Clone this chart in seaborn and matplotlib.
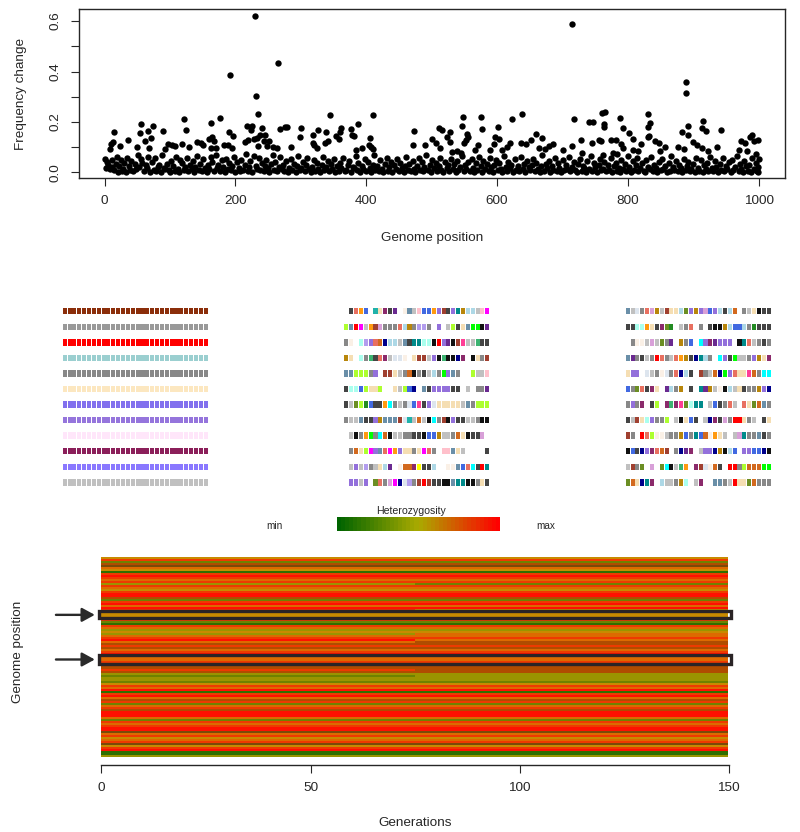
import numpy as np
import matplotlib
matplotlib.use("Agg")
import matplotlib.pyplot as plt
from matplotlib.colors import ListedColormap, LinearSegmentedColormap
from matplotlib.patches import Rectangle
import seaborn as sns

# upper part of the scatter, read point by point
pos_high = [230,265,192,231,234,344,410,122,176,163,55,74,388,218,226,224,240,268,276,279,300,327,338,362,360,377,
            15,66,125,89,54,191,196,71,237,246,298,318,354,359,378,382,405,228,233,220,215,243,251,36,13,10,62,165,
            160,168,142,148,150,119,318,320,337,342,97,103,108,23,129,183,188,195,404,407,411,249,235,257,263,285,
            49,68,9,162,170,92,325,394,384,
            714,888,889,830,638,623,576,548,718,760,765,788,914,740,747,833,831,764,763,547,601,577,892,792,913,920,
            942,511,516,473,528,524,528,882,801,554,556,552,549,659,891,990,986,998,993,597,603,595,668,652,637,644,
            620,830,832,808,728,759,755,774,782,842,847,820,900,745,500,507,472,490,513,571,685,680,673,715,790,792,
            906,913,923,973,979,936,877,886,857,849,615,607,664,589,700,730,808,815,566,531,539,545,969,982,995,777,784,762]
freq_high = [.62,.434,.388,.303,.23,.229,.226,.21,.216,.196,.192,.186,.192,.186,.186,.17,.175,.172,.18,.18,.176,.167,.16,.175,.162,.174,
             .16,.163,.17,.166,.155,.159,.143,.138,.15,.15,.14,.149,.143,.134,.149,.146,.135,.133,.135,.129,.12,.126,.125,.129,.122,.113,.124,.142,
             .132,.124,.12,.118,.108,.112,.118,.11,.116,.125,.113,.108,.103,.104,.101,.107,.107,.096,.108,.101,.093,.104,.103,.1,.095,.1,
             .099,.095,.093,.096,.096,.093,.095,.095,.09,
             .587,.36,.315,.23,.232,.212,.221,.22,.21,.237,.24,.216,.205,.2,.2,.197,.182,.192,.179,.186,.18,.172,.184,.176,.176,.163,
             .17,.175,.168,.166,.16,.142,.121,.159,.155,.153,.139,.129,.116,.153,.147,.147,.139,.13,.124,.142,.133,.113,.138,.128,.117,.112,
             .118,.14,.145,.133,.129,.125,.129,.129,.13,.126,.116,.112,.12,.117,.134,.118,.11,.107,.096,.11,.113,.103,.093,.104,.112,.096,
             .11,.096,.086,.124,.116,.099,.1,.092,.1,.087,.101,.09,.097,.088,.09,.079,.088,.087,.088,.083,.087,.076,.09,.087,.072,.076,.072,.07]

# dense band close to zero, estimated by eye
pos_low = [1,3,4,6,8,11,12,14,17,19,20,22,25,27,28,30,33,35,37,39,41,43,46,48,51,53,56,58,60,63,65,67,70,72,75,77,79,82,84,86,
           88,91,93,95,98,100,102,105,107,109,112,114,116,118,121,123,126,128,130,133,135,137,139,142,144,146,149,151,153,156,158,160,163,165,167,170,172,174,177,179,
           181,184,186,188,190,193,195,198,200,202,205,207,209,212,214,216,219,221,223,226,228,231,233,236,238,240,243,245,247,250,252,254,257,259,261,264,266,268,271,273,
           275,278,280,282,285,287,289,292,294,296,299,301,303,306,308,310,313,315,317,320,322,325,327,329,332,334,336,339,341,343,346,348,350,353,355,358,360,362,365,367,
           369,372,374,376,379,381,384,386,388,391,393,395,398,400,402,405,407,410,412,414,417,419,421,424,426,428,431,433,435,438,440,443,445,447,450,452,454,457,459,461,
           464,466,468,471,473,475,478,480,482,485,487,489,492,494,497,499,501,504,506,508,511,513,515,518,520,523,525,527,530,532,534,537,539,541,544,546,549,551,553,556,
           558,561,563,565,568,570,572,575,577,579,582,584,587,589,591,594,596,598,601,603,606,608,610,613,615,617,620,622,624,627,629,632,634,636,639,641,643,646,648,650,
           653,655,658,660,662,665,667,669,672,674,676,679,681,684,686,688,691,693,695,698,700,703,705,707,710,712,714,717,719,722,724,726,729,731,733,736,738,740,743,745,
           748,750,752,755,757,759,762,764,767,769,771,774,776,778,781,783,786,788,790,793,795,797,800,802,805,807,809,812,814,816,819,821,824,826,828,831,833,835,838,840,
           843,845,847,850,852,854,857,859,862,864,866,869,871,873,876,878,881,883,885,888,890,892,895,897,900,902,904,907,909,911,914,916,919,921,923,926,928,930,933,935,
           938,940,942,945,947,950,952,954,957,959,961,964,966,969,971,973,976,978,980,983,985,988,990,992,995,997,998,999,1000,996]
freq_low = [.055,.018,.042,.03,.012,.048,.022,.008,.035,.06,.002,.027,.05,.004,.015,.038,.003,.058,.024,.01,.044,.006,.032,.013,.07,.02,.052,.036,.005,.028,
            .016,.063,.003,.041,.011,.056,.007,.023,.03,.002,.068,.017,.012,.034,.008,.001,.045,.025,.006,.062,.015,.003,.05,.037,.01,.022,.058,.004,.029,.013,
            .046,.002,.02,.065,.009,.033,.005,.054,.018,.001,.028,.012,.06,.04,.004,.07,.016,.03,.007,.048,.023,.002,.055,.014,.036,.009,.025,.062,.003,.043,
            .019,.005,.051,.011,.031,.072,.006,.021,.044,.002,.065,.027,.013,.057,.008,.038,.004,.024,.05,.016,.001,.034,.068,.01,.041,.005,.022,.06,.014,.029,
            .007,.046,.003,.019,.054,.011,.035,.002,.025,.064,.008,.017,.042,.004,.03,.056,.012,.002,.023,.049,.006,.037,.015,.001,.028,.061,.009,.02,.044,.004,
            .033,.013,.052,.002,.026,.007,.039,.018,.058,.005,.011,.031,.047,.003,.022,.016,.065,.008,.036,.002,.027,.012,.053,.006,.041,.019,.003,.03,.07,.01,
            .024,.004,.048,.014,.002,.035,.059,.007,.02,.043,.003,.029,.012,.052,.006,.038,.017,.001,.025,.063,.009,.033,.005,.046,.015,.002,.027,.056,.011,.04,
            .004,.021,.068,.008,.031,.003,.05,.016,.037,.006,.024,.059,.01,.002,.043,.019,.028,.005,.054,.013,.034,.002,.047,.009,.022,.064,.004,.03,.015,.041,
            .007,.052,.018,.002,.036,.011,.06,.025,.003,.045,.014,.032,.006,.056,.02,.001,.028,.049,.008,.038,.012,.003,.066,.023,.005,.042,.017,.031,.002,.053,
            .01,.026,.007,.061,.015,.035,.003,.047,.02,.009,.029,.055,.004,.039,.013,.002,.024,.069,.006,.033,.017,.044,.003,.027,.011,.057,.005,.036,.019,.001,
            .048,.008,.03,.014,.062,.004,.022,.041,.01,.002,.034,.052,.007,.025,.016,.003,.046,.012,.065,.006,.037,.02,.002,.029,.054,.009,.015,.043,.004,.031,
            .011,.058,.003,.024,.039,.007,.018,.002,.05,.013,.033,.005,.067,.021,.001,.044,.01,.028,.056,.004,.016,.036,.007,.002,.048,.023,.012,.06,.005,.031,
            .018,.003,.041,.009,.053,.014,.027,.002,.037,.006,.064,.02,.011,.046,.004,.03,.016,.002,.055,.008,.025,.042,.005,.013,.034,.003,.059,.019,.007,.049,
            .002,.028,.012,.038,.004,.062,.017,.006,.045,.022,.002,.032,.01,.056,.004,.026,.014,.04,.003,.051,.008,.02,.066,.005,.035,.012,.002,.047,.024,.007,
            .03,.003,.058,.015,.039,.005,.021,.002,.052,.011]

# each locus row as a colour code, one string per stretch of generations
het_early = ("orGBbOogrR" "rOrYrOorRR" "BGrRORrOoo" "BrGgrOYoYO" "rROBrBOrRr"
             "OOrbBBrBYG" "YYGorORgrR" "OBrGOrBRRR" "OGrOrRRbOr" "oOrborRggY")
het_late = ("orGBbOogrR" "rOrGrOorRR" "BGrRORoOoo" "BrGgrOYoOO" "rOBBrBOrRr"
            "OOrbBBBBYY" "YYGorORgrR" "OBrGOrBRRR" "OGrOrRRbOr" "oOrborRggY")
het_shades = {"R": "#FF1000", "r": "#EE3A00", "O": "#DD6A00", "o": "#C88A00", "Y": "#9A9400",
              "G": "#6E8200", "g": "#2F6E00", "B": "#B04C00", "b": "#7A4A08"}
selected_rows = [(27.25, 30.75), (49.25, 53.5)]
gen_ticks = [0, 50, 100, 150]

# genotype panels
fixed_colors = ["#8B2E0A", "#999999", "#FF0000", "#9BCFD0", "#888888", "#FCE7C0",
                "#8270EE", "#9575DC", "#FFE6FA", "#8B1F5A", "#8A78FF", "#C0C0C0"]
allele_colors = {".": "#FFFFFF", "k": "#111111", "d": "#444444", "m": "#888888", "l": "#C0C0C0", "p": "#DDE5EE",
                 "b": "#4169E1", "n": "#00008B", "c": "#00FFFF", "t": "#20B2AA", "T": "#008B8B", "s": "#6A8FA8",
                 "v": "#9370DB", "V": "#6A2A90", "M": "#FF00FF", "P": "#8B2A6B", "h": "#FF3E96", "r": "#FF0000",
                 "R": "#A04030", "o": "#FF9A10", "O": "#D2691E", "y": "#FFFF00", "g": "#B8860B", "e": "#F5DEB3",
                 "w": "#FAF0E6", "G": "#ADFF2F", "L": "#00FF00", "f": "#228B22", "S": "#3CB371", "A": "#AAFFEE",
                 "i": "#B39DEE", "u": "#E87060", "j": "#6B8E23", "x": "#FFC0CB", "z": "#ADD8E6", "Q": "#D8A0D8"}
middle_rows = [".duob.tePdV.wslxbbovRdvTgzzlxM", "GsrMloRQmmmuzgmiim.v.lGdesLLkV", "mw.AivuOnzzlsdTTAAkrvVkRhllSdd",
               "ge.AmSduPlppw.eRRlvkSkknP.kemR", "ssGGGmv.RRelmOkmdlzmLvsm..Gllx", "dAAbGeeG..elGbn.sdvvvvdd.l.mmV",
               "dljGfbddocmlmpbhdvpeeeeelsmGGG", "mllsddvgsssRptlOlkcmRkvddllmkk", ".lkmoLmcOkllmmddkbbgllmOekddQ.",
               ".mOeGMvsuMoveemeMum.xxsel....d", ".lvlimlezV.wOOPyddz..wwsbucdrT", ".vvlv.jumQMnpimRrRddkksTTkkmed"]
right_rows = ["slpmuQglReezjvgvQbvzdzO.mlekdd", "ddAAoedPjf.lmu.m.dkkgzbbzmfddd", ".mwwlQljmV.gmb.cvPVvvv.kTulmdm",
              "sVmdlmrumluogdnTzm.cvdLllmvgeP", "evv.plmwpmunzd.RmlOnLvueehOmcc", "bmjudPe.Vzmg.d.TVglwkzledmmgvn",
              "mvmP.dG.PSPhjATT.lbdmul.uejOsm", "dlReAvmmG.lkebd.lnPdQmrreml.de", "Rm.ruGwwlmmgbmTbOwoel.lQTmmsdm",
              "kbdnvPuOR.mnVP.lvvngkzb.vvbbnk", "lRmj.Q.jcklSo.PRpwOd.rrmGOOOLL", "jOenTP.zllmgA.lP..ssmlreejOmmm"]

W, H = 800, 832
INK = "#262626"

sns.set_theme(style="ticks")
plt.rcParams["font.family"] = ["Liberation Sans", "DejaVu Sans"]
plt.rcParams["text.color"] = INK
plt.rcParams["axes.labelcolor"] = INK
plt.rcParams["xtick.color"] = INK
plt.rcParams["ytick.color"] = INK

fig = plt.figure(figsize=(W / 100, H / 100), dpi=100)


def px_axes(left, top, right, bottom):
    return fig.add_axes([left / W, 1 - bottom / H, (right - left) / W, (bottom - top) / H])


def draw_block(ax, rows):
    # rows are drawn 5 units high with 7 blank ones under them, cells get a thin gap
    hex_rows = [[allele_colors.get(c, c) if len(c) == 1 else c for c in r] for r in rows]
    used = sorted({c for r in hex_rows for c in r})
    codes = np.array([[used.index(c) for c in r] for r in hex_rows], dtype=float)
    grid = np.full((12 * codes.shape[0] - 7, 6 * codes.shape[1] - 1), np.nan)
    for i in range(codes.shape[0]):
        for j in range(codes.shape[1]):
            grid[12 * i:12 * i + 5, 6 * j:6 * j + 5] = codes[i, j]
    sns.heatmap(grid, ax=ax, cmap=ListedColormap(used), vmin=-0.5, vmax=len(used) - 0.5, cbar=False,
                xticklabels=False, yticklabels=False)


# top panel
n_low = min(len(pos_low), len(freq_low))
ax_top = px_axes(79, 9, 785, 178)
sns.scatterplot(x=pos_high + pos_low[:n_low], y=freq_high + freq_low[:n_low], color="black", s=21, linewidth=0, ax=ax_top)
ax_top.set_xlim(-39, 1040)
ax_top.set_ylim(-0.022, 0.648)
ax_top.set_xticks([0, 200, 400, 600, 800, 1000])
ax_top.set_yticks([0, .1, .2, .3, .4, .5, .6])
ax_top.set_yticklabels(["0.0", "", "0.2", "", "0.4", "", "0.6"], rotation=90, va="center")
ax_top.tick_params(length=5.5, width=0.8, labelsize=9.7)
ax_top.tick_params(axis="x", pad=7)
ax_top.tick_params(axis="y", pad=7)
for sp in ax_top.spines.values():
    sp.set_linewidth(1.0)
    sp.set_color(INK)
fig.text(432 / W, 1 - 238 / H, "Genome position", ha="center", va="center", fontsize=9.7)
fig.text(21 / W, 1 - 94 / H, "Frequency change", ha="center", va="center", rotation=90, fontsize=9.7)

# genotype blocks
first_rows = [[c] * 30 for c in fixed_colors]
for left, rows in [(62.7, first_rows), (344.3, middle_rows), (625.7, right_rows)]:
    draw_block(px_axes(left, 308, left + 145, 485.6), rows)

# colour key
het_cmap = LinearSegmentedColormap.from_list("het", ["#006400", "#AAAA00", "#FF0000"])
ax_key = px_axes(337, 517, 500, 530.5)
sns.heatmap(np.linspace(0, 1, 40).reshape(1, -1), ax=ax_key, cmap=het_cmap, cbar=False,
            xticklabels=False, yticklabels=False)
fig.text(411 / W, 1 - 511 / H, "Heterozygosity", ha="center", va="center", fontsize=7.6)
fig.text(274.5 / W, 1 - 526 / H, "min", ha="center", va="center", fontsize=7.2)
fig.text(546 / W, 1 - 526 / H, "max", ha="center", va="center", fontsize=7.2)

# heterozygosity through time
shade_names = list(het_shades)
early_idx = [shade_names.index(c) for c in het_early]
late_idx = [shade_names.index(c) for c in het_late]
het_matrix = np.repeat(np.array([early_idx, late_idx], dtype=float).T, 75, axis=1)
ax_het = px_axes(101.5, 557, 728.5, 756.5)
sns.heatmap(het_matrix, ax=ax_het, cmap=ListedColormap([het_shades[c] for c in shade_names]),
            vmin=-0.5, vmax=len(shade_names) - 0.5, cbar=False, yticklabels=False)
ax_het.set_xticks(gen_ticks)
ax_het.set_xticklabels([str(g) for g in gen_ticks], rotation=0)
ax_het.set_yticks([])
ax_het.spines["bottom"].set_visible(True)
ax_het.spines["bottom"].set_position(("outward", 6.2))
ax_het.spines["bottom"].set_bounds(0, 150)
ax_het.spines["bottom"].set_linewidth(1.0)
ax_het.spines["bottom"].set_color(INK)
ax_het.tick_params(axis="x", length=5.5, width=0.8, labelsize=9.7, pad=7, bottom=True)
for y0, y1 in selected_rows:
    ax_het.add_patch(Rectangle((-0.6, y0), 151.2, y1 - y0, fill=False, edgecolor="#2A2426", linewidth=2.4, clip_on=False, zorder=5))
    mid_y = (y0 + y1) / 2
    ax_het.annotate("", xy=(-1.6, mid_y), xytext=(-10.9, mid_y), annotation_clip=False,
                    arrowprops=dict(arrowstyle="-|>,head_length=0.55,head_width=0.3", color="#2A2A2A", lw=1.7,
                                    shrinkA=0, shrinkB=0, mutation_scale=14))
fig.text(415 / W, 1 - 823 / H, "Generations", ha="center", va="center", fontsize=9.7)
fig.text(18 / W, 1 - 652 / H, "Genome position", ha="center", va="center", rotation=90, fontsize=9.7)

fig.savefig("out.png", dpi=100)
